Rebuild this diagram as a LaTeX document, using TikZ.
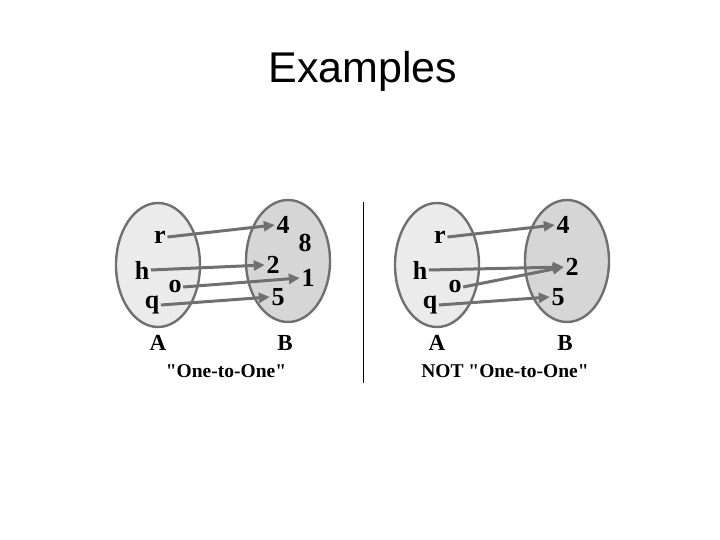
\documentclass[tikz,border=0pt]{standalone}
\usepackage{fontspec}
\setmainfont{Liberation Serif}
\newfontfamily\titlefont{Liberation Sans}
\usetikzlibrary{arrows.meta, shapes.geometric}

\definecolor{edgegray}{HTML}{707070}
\definecolor{fillA}{HTML}{EBEBEB}
\definecolor{fillB}{HTML}{D6D6D6}

\begin{document}
\begin{tikzpicture}[x=1pt, y=-1pt,
        setA/.style={ellipse, draw=edgegray, line width=2.4pt, fill=fillA, minimum width=84pt, minimum height=124pt},
        setB/.style={setA, fill=fillB, minimum height=122pt},
        elem/.style={font=\bfseries\fontsize{26}{26}\selectfont, inner sep=1.5pt},
        setname/.style={font=\bfseries\fontsize{23}{23}\selectfont},
        caption/.style={font=\bfseries\fontsize{19.5}{19.5}\selectfont},
        maps/.style={-{Triangle[length=11pt, width=10pt]}, line width=3pt, draw=edgegray}
    ]
        \useasboundingbox (0,0) rectangle (720,540);

        % Title
        \node[font=\titlefont\fontsize{43}{43}\selectfont, anchor=base] (title) at (363,83) {Examples};

        % Left: one-to-one
        \node[setA] (A1) at (158,265) {};
        \node[setB] (B1) at (288,261) {};
        \node[elem] (r1) at (160,237) {r};
        \node[elem] (h1) at (142,270) {h};
        \node[elem] (o1) at (175,287) {o};
        \node[elem] (q1) at (152,305) {q};
        \node[elem] (f1) at (283,225) {4};
        \node[elem] (e1) at (305,243) {8};
        \node[elem] (t1) at (273,265) {2};
        \node[elem] (u1) at (308,278) {1};
        \node[elem] (v1) at (278,297) {5};
        \node[setname] (nA1) at (158,343) {A};
        \node[setname] (nB1) at (285,343) {B};
        \node[caption] (cap1) at (226,371) {\textquotedbl One-to-One\textquotedbl};

        \foreach \from/\to in {r1/f1, h1/t1, o1/u1, q1/v1} {
            \draw[maps] (\from.east) -- (\to.west);
        }

        % Divider
        \coordinate (d1) at (363,202);
        \coordinate (d2) at (363,383);
        \draw[line width=1pt] (d1) -- (d2);

        % Right: not one-to-one
        \node[setA] (A2) at (437,265) {};
        \node[setB] (B2) at (567,261) {};
        \node[elem] (r2) at (440,237) {r};
        \node[elem] (h2) at (420,270) {h};
        \node[elem] (o2) at (455,287) {o};
        \node[elem] (q2) at (430,305) {q};
        \node[elem] (f2) at (563,225) {4};
        \node[elem] (t2) at (572,267) {2};
        \node[elem] (v2) at (558,297) {5};
        \node[setname] (nA2) at (437,343) {A};
        \node[setname] (nB2) at (565,343) {B};
        \node[caption] (cap2) at (505,371) {NOT \textquotedbl One-to-One\textquotedbl};

        \foreach \from/\to in {r2/f2, h2/t2, o2/t2, q2/v2} {
            \draw[maps] (\from.east) -- (\to.west);
        }

    \end{tikzpicture}
\end{document}
